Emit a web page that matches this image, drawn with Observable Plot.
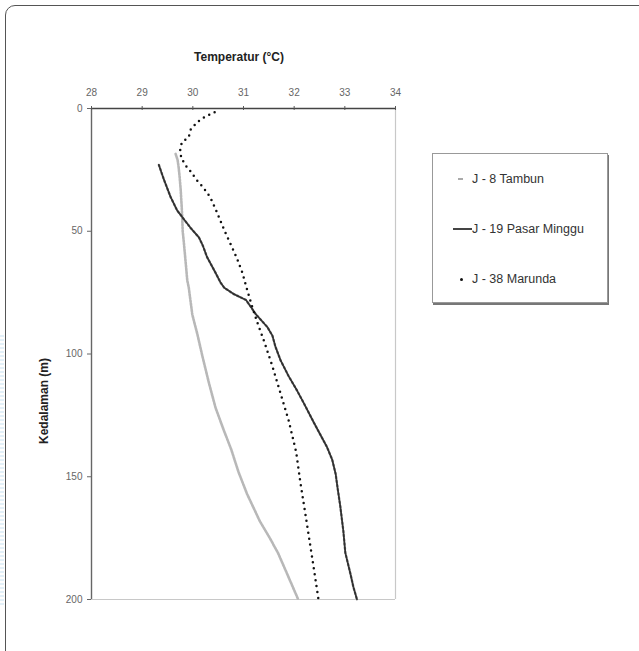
<!DOCTYPE html>
<html>
<head>
<meta charset="utf-8">
<script src="https://cdn.jsdelivr.net/npm/d3@7"></script>
<script src="https://cdn.jsdelivr.net/npm/@observablehq/plot@0.6"></script>
<style>
  html, body { margin: 0; padding: 0; background: #fff; overflow: hidden; width: 639px; height: 651px; }
  body { position: relative; font-family: "Liberation Sans", Arial, sans-serif; }
  #frame { position: absolute; left: 5px; top: 5px; width: 680px; height: 700px; border: 1.5px solid #555; border-radius: 10px; }
  #strip { position: absolute; left: 0; top: 335px; width: 4px; height: 270px; background: repeating-linear-gradient(#e3f0f8 0 2px, #fff 2px 4px); }
  #chart { position: absolute; left: 0; top: 0; }
  #ytitle { position: absolute; left: 44px; top: 401px; transform: translate(-50%, -50%) rotate(-90deg); font-size: 12px; font-weight: bold; color: #222; white-space: nowrap; }
  #legend { position: absolute; left: 432px; top: 153px; width: 174px; height: 148px; border: 1px solid #999; box-shadow: 1px 2px 0 #777; background: #fff; }
  .item { position: absolute; font-size: 12.5px; color: #333; line-height: 14px; white-space: nowrap; }
  .mk { position: absolute; }
</style>
</head>
<body>
<div id="frame"></div>
<div id="strip"></div>
<div id="chart"></div>
<div id="ytitle"></div>
<div id="legend"></div>
<script>
// Series: depth (m) and temperature (°C)
const j8Depth = [18.5, 21, 24, 28, 33, 40, 44, 50, 54, 63, 70, 73, 84, 92, 101, 112, 122, 131, 139, 148, 157, 168, 175, 181, 189.5, 200];
const j8Temp  = [29.66, 29.70, 29.72, 29.74, 29.76, 29.78, 29.79, 29.80, 29.82, 29.86, 29.89, 29.92, 29.99, 30.09, 30.19, 30.32, 30.45, 30.61, 30.76, 30.90, 31.07, 31.32, 31.52, 31.68, 31.86, 32.08];

const j19Depth = [23, 29, 36, 41.5, 45, 48.5, 52.5, 56, 60.5, 67, 71, 73, 75.5, 78, 81, 84, 89, 92.5, 97, 102.5, 109, 115, 120, 128, 133, 138, 143, 149, 155, 162, 172, 181, 189.5, 195, 200];
const j19Temp  = [29.33, 29.43, 29.56, 29.69, 29.82, 29.95, 30.12, 30.20, 30.28, 30.45, 30.55, 30.62, 30.80, 31.05, 31.15, 31.25, 31.47, 31.57, 31.63, 31.73, 31.89, 32.06, 32.19, 32.39, 32.52, 32.65, 32.75, 32.82, 32.86, 32.91, 32.97, 33.01, 33.11, 33.17, 33.24];

const j38Depth = [1.5, 3.5, 5.5, 8.5, 11.5, 14, 17, 20, 23, 26, 29, 32, 36, 41, 46, 50, 55, 61, 67, 73, 80, 87, 95, 105, 116, 127, 140, 152, 165, 177, 189, 200];
const j38Temp  = [30.43, 30.23, 30.09, 29.96, 29.92, 29.78, 29.75, 29.77, 29.85, 29.97, 30.07, 30.20, 30.34, 30.45, 30.55, 30.63, 30.74, 30.87, 30.98, 31.06, 31.16, 31.27, 31.41, 31.57, 31.73, 31.89, 32.04, 32.12, 32.22, 32.31, 32.40, 32.48];

const seriesNames = ["J - 8 Tambun", "J - 19 Pasar Minggu", "J - 38 Marunda"];
const xTicks = [28, 29, 30, 31, 32, 33, 34];
const yTicks = [0, 50, 100, 150, 200];
const xTitle = "Temperatur (°C)";
const yTitle = "Kedalaman (m)";

const toRows = (ds, ts) => ds.map((d, i) => ({d, t: ts[i]}));
const j8 = toRows(j8Depth, j8Temp);
const j19 = toRows(j19Depth, j19Temp);
const j38 = toRows(j38Depth, j38Temp);

const chart = Plot.plot({
  width: 639,
  height: 651,
  marginLeft: 91,
  marginRight: 244,
  marginTop: 108,
  marginBottom: 52,
  style: {fontFamily: "'Liberation Sans', Arial, sans-serif", fontSize: "10px", background: "transparent", overflow: "visible"},
  x: {domain: [28, 34], axis: null},
  y: {domain: [0, 200], reverse: true, axis: null},
  marks: [
    Plot.ruleX([34], {stroke: "#c8c8c8", strokeWidth: 1.2}),
    Plot.ruleY([200], {stroke: "#c8c8c8", strokeWidth: 1.2}),
    Plot.ruleY([0], {stroke: "#444", strokeWidth: 1.4}),
    Plot.ruleX([28], {stroke: "#666", strokeWidth: 1.4}),
    Plot.ruleX(xTicks, {x: d => d, y1: -0.8, y2: 0.8, stroke: "#555"}),
    Plot.axisX(xTicks, {anchor: "top", tickSize: 0, tickPadding: 13, fill: "#666", fontSize: 10, label: null}),
    Plot.axisY(yTicks, {anchor: "left", tickSize: 4, tickPadding: 5, stroke: "#666", fill: "#666", fontSize: 10, label: null}),
    Plot.text([xTitle], {frameAnchor: "top", dx: -4.5, dy: -56, fontWeight: "bold", fontSize: 12, fill: "#222"}),
    Plot.line(j8, {x: "t", y: "d", stroke: "#b8b8b8", strokeWidth: 2.6, strokeDasharray: "2,1.2"}),
    Plot.line(j19, {x: "t", y: "d", stroke: "#3c3c3c", strokeWidth: 1.8}),
    Plot.line(j19, {x: "t", y: "d", stroke: "#222", strokeWidth: 2.4, strokeDasharray: "1.2,3", strokeOpacity: 0.5}),
    Plot.line(j38, {x: "t", y: "d", stroke: "#111", strokeWidth: 2.5, strokeDasharray: "0,6", strokeLinecap: "round"})
  ]
});
document.getElementById("chart").appendChild(chart);
document.getElementById("ytitle").textContent = yTitle;

// Legend
const legend = document.getElementById("legend");
const entries = [
  {name: seriesNames[0], top: 18, marker: '<div class="mk" style="left:25px;top:6px;width:5px;height:2px;background:#aaa"></div>'},
  {name: seriesNames[1], top: 68, marker: '<div class="mk" style="left:20px;top:6px;width:19px;height:2px;background:#444"></div>'},
  {name: seriesNames[2], top: 118, marker: '<div class="mk" style="left:27px;top:5.5px;width:3px;height:3px;border-radius:50%;background:#111"></div>'}
];
entries.forEach(e => {
  const row = document.createElement("div");
  row.style.position = "absolute";
  row.style.left = "0px";
  row.style.top = e.top + "px";
  row.style.width = "174px";
  row.style.height = "14px";
  row.innerHTML = e.marker + `<div class="item" style="left:39px;top:0">${e.name}</div>`;
  legend.appendChild(row);
});
</script>
</body>
</html>
